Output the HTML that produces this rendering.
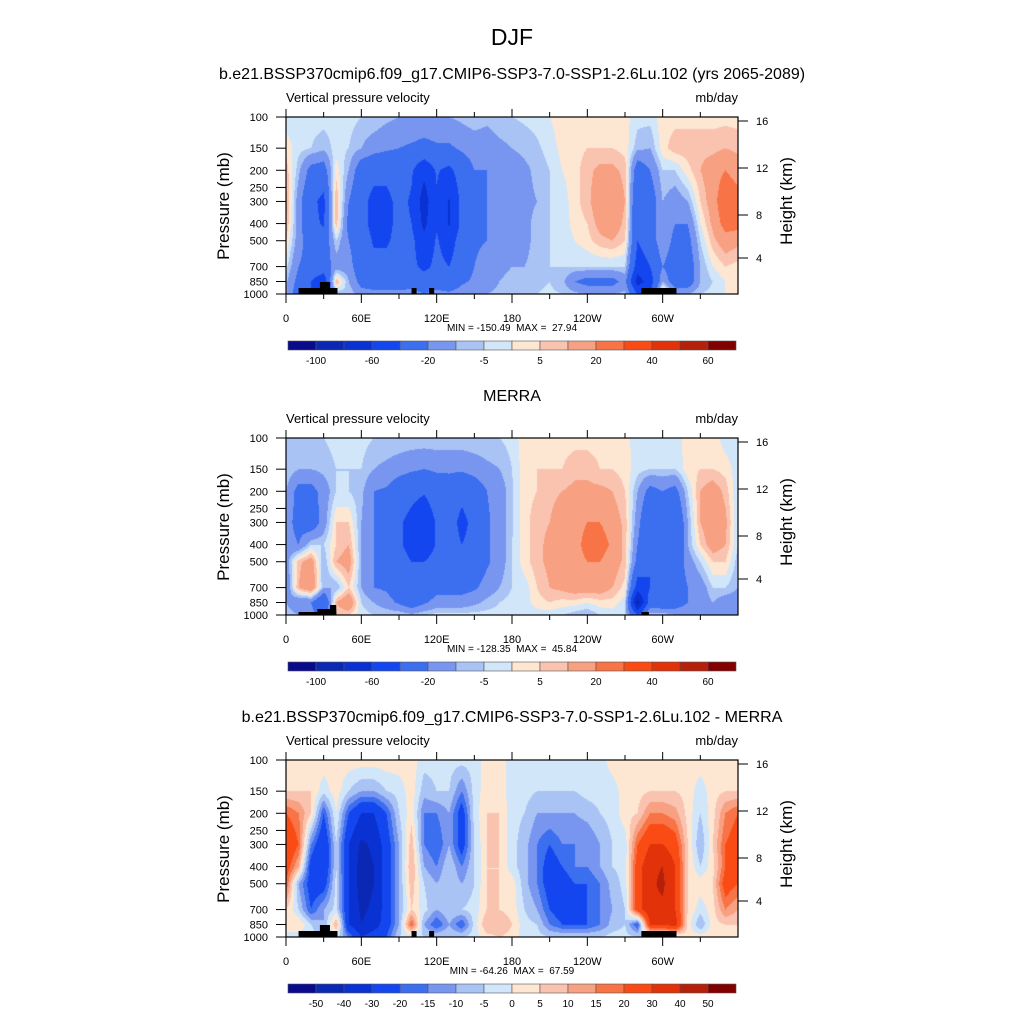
<!DOCTYPE html>
<html><head><meta charset="utf-8">
<style>
html,body{margin:0;padding:0;background:#fff;}
#root{position:relative;width:1024px;height:1024px;overflow:hidden;font-family:"Liberation Sans",sans-serif;}
canvas{position:absolute;}
svg{position:absolute;left:0;top:0;}
text{white-space:pre;}
</style></head><body>
<div id="root">
<canvas id="c0" width="452" height="177" style="left:286px;top:117px"></canvas>
<canvas id="c1" width="452" height="177" style="left:286px;top:438px"></canvas>
<canvas id="c2" width="452" height="177" style="left:286px;top:760px"></canvas>
<svg id="ov" width="1024" height="1024"></svg>
</div>
<script>
const colors=["#0a0a8c","#0a28b4","#0a32d2","#1446f0","#3c6ef0","#7896f0","#aac3f5","#d2e6fa","#fde6d2","#fac3af","#f8a082","#f87346","#fa4b14","#e1320a","#b4200a","#820000"];
const levelsAbs=[-100,-80,-60,-40,-20,-10,-5,0,5,10,20,30,40,50,60];
const levelsDiff=[-50,-40,-30,-20,-15,-10,-5,0,5,10,15,20,30,40,50];
const levelLabelsAbs=["-100","","-60","","-20","","-5","","5","","20","","40","","60"];
const levelLabelsDiff=["-50","-40","-30","-20","-15","-10","-5","0","5","10","15","20","30","40","50"];
const pressures=[100,150,200,300,400,500,700,850,1000];
const pTicks=[100,150,200,250,300,400,500,700,850,1000];
const hTicks=[16,12,8,4];
const hTickY=[4,51,98,141];
const lonTicks=[0,60,120,180,240,300];
const lonLabels=["0","60E","120E","180","120W","60W"];
const lons=[0,10,20,30,40,50,60,70,80,90,100,110,120,130,140,150,160,170,180,190,200,210,220,230,240,250,260,270,280,290,300,310,320,330,340,350,360];
const modelField=[
[-3,3,8,12,10,5,-3,-8,-8],[-3,-3,-8,-15,-15,-15,-20,-25,-30],[-3,-5,-25,-35,-35,-28,-25,-40,-40],[-3,-8,-28,-45,-42,-32,-28,-55,-45],
[-3,-3,3,10,8,-5,-15,10,-10],[-3,-5,-10,-20,-25,-20,-15,-10,-5],[-5,-10,-30,-35,-35,-30,-30,-25,-15],[-5,-15,-35,-45,-45,-42,-35,-30,-15],
[-8,-18,-35,-45,-45,-42,-35,-30,-15],[-10,-20,-30,-35,-35,-35,-35,-30,-15],[-10,-22,-38,-42,-40,-35,-35,-28,-15],[-10,-25,-55,-70,-65,-55,-45,-30,-20],
[-10,-22,-38,-42,-42,-38,-35,-30,-15],[-10,-22,-45,-62,-62,-50,-40,-30,-18],[-8,-18,-30,-35,-35,-30,-28,-22,-15],[-6,-15,-20,-22,-22,-22,-20,-18,-12],
[-8,-15,-20,-20,-20,-20,-15,-15,-10],[-6,-12,-15,-15,-15,-15,-12,-10,-8],[-5,-10,-15,-15,-15,-15,-10,-8,-6],[-4,-8,-12,-12,-12,-12,-10,-8,-6],
[-3,-6,-8,-10,-8,-8,-8,-6,-5],[0,-3,-5,-5,-5,-5,-5,-5,-4],[3,2,0,-3,-3,-3,-5,-8,-5],[3,3,3,3,2,0,-5,-20,-8],
[3,5,8,8,5,3,-5,-25,-10],[3,5,12,16,13,8,-5,-25,-10],[3,5,12,18,16,10,-5,-25,-10],[2,3,8,10,8,5,-5,-15,-8],
[-3,-8,-30,-40,-40,-40,-50,-70,-40],[-3,-10,-20,-30,-30,-30,-40,-50,-40],[3,3,-5,-10,-10,-10,-20,-10,10],[3,8,-5,-15,-20,-25,-30,-30,-10],
[3,8,3,-10,-20,-25,-30,-30,-10],[3,8,10,5,0,-5,-10,-10,-5],[3,8,15,15,12,8,0,-5,-3],[3,10,20,30,25,15,5,0,0],[3,8,15,25,25,12,3,0,3]];
const merraField=[
[-5,-5,-10,-15,-15,-15,-20,-10,-5],[-5,-10,-25,-25,-20,8,10,-20,-10],[-5,-10,-25,-30,-5,15,20,-20,-15],[-5,-8,-15,-15,-5,-10,-10,-40,-30],
[-3,-5,-5,5,5,10,-10,10,5],[-3,-5,-5,5,10,15,5,20,5],[-3,-5,-8,-10,-10,-10,-10,-5,-3],[-5,-10,-20,-20,-20,-20,-20,-10,-5],
[-5,-12,-22,-30,-30,-28,-22,-15,-5],[-5,-15,-30,-38,-38,-35,-30,-22,-5],[-5,-18,-35,-45,-45,-40,-35,-30,-8],[-5,-20,-38,-55,-55,-40,-32,-22,-5],
[-5,-18,-30,-38,-38,-32,-25,-15,-3],[-5,-18,-28,-32,-32,-32,-25,-15,-3],[-5,-18,-35,-45,-40,-32,-25,-15,-3],[-5,-15,-30,-35,-35,-32,-22,-12,-3],
[-5,-12,-20,-22,-22,-22,-15,-8,-3],[-5,-10,-15,-15,-15,-15,-10,-5,-3],[-3,-5,-6,-6,-5,-5,-5,-3,-3],[3,3,3,3,3,3,-3,-3,-3],
[3,5,5,8,8,8,5,3,-3],[3,5,8,10,12,12,10,5,-3],[3,5,10,15,15,15,12,3,-5],[3,8,12,18,18,18,15,3,-8],
[3,8,12,20,22,20,15,0,-10],[3,5,12,20,25,20,15,3,-5],[3,5,10,15,18,15,10,3,-3],[2,3,5,8,8,8,3,-3,-5],
[-3,-3,-10,-15,-20,-25,-50,-90,-40],[-3,-5,-25,-40,-40,-40,-40,-30,-5],[-3,-5,-20,-30,-30,-30,-40,-35,-5],[-3,-5,-25,-40,-40,-30,-30,-30,-10],
[3,3,-5,-10,-10,-15,-20,-20,-10],[3,5,10,10,5,-5,-15,-15,-10],[3,5,15,18,15,5,-5,-10,-10],[-3,3,8,12,10,5,-5,-15,-10],[-3,-3,-5,-5,-5,-8,-10,-15,-10]];
const diffField=[
[3,5,20,30,25,20,5,5,-3],[3,5,15,20,10,-10,-5,5,-3],[3,5,5,-15,-25,-25,-20,-5,-3],[3,-3,-20,-30,-30,-25,-10,-10,-5],
[3,3,0,-5,-5,-3,-3,10,-3],[3,-5,-20,-30,-30,-30,-30,-30,-15],[3,-10,-30,-42,-45,-45,-42,-40,-30],[3,-10,-30,-38,-40,-40,-38,-35,-25],
[3,-5,-20,-25,-25,-25,-25,-25,-20],[3,-3,-5,-10,-10,-10,-10,-10,-5],[3,3,3,8,10,8,5,20,-3],[-3,-8,-15,-15,-10,-5,-3,-10,-5],
[-3,-5,-15,-20,-15,-10,-10,-20,-5],[-3,-5,-10,-10,-5,-5,-5,-10,-5],[-3,-15,-25,-25,-15,-10,-5,-20,-5],[-3,-3,-3,-5,-5,-5,-3,-3,-3],
[3,3,5,5,5,5,5,10,3],[3,3,5,5,5,5,5,10,5],[-3,-3,-3,-3,-3,3,3,5,3],[-3,-3,-5,-8,-8,-8,-5,-3,-3],
[-3,-5,-10,-15,-15,-15,-10,-5,-3],[-3,-5,-10,-20,-25,-25,-20,-15,-5],[-3,-5,-10,-15,-20,-25,-25,-20,-5],[-3,-5,-10,-15,-15,-20,-25,-20,-5],
[-3,-3,-8,-15,-15,-20,-20,-20,-5],[-3,-3,-5,-10,-10,-15,-15,-15,-5],[3,-3,-3,-5,-5,-8,-10,-8,-3],[3,3,3,-3,-3,-3,-5,-5,-3],
[3,3,5,20,25,25,25,-20,-5],[3,5,15,30,38,38,38,30,-5],[3,5,15,30,40,42,38,30,-5],[3,5,12,25,30,30,30,35,-3],
[3,3,3,5,5,5,5,3,3],[3,-3,-5,-10,-5,3,-3,-10,3],[3,3,3,5,3,5,3,3,3],[3,5,15,20,20,25,15,5,3],[3,5,20,25,25,20,10,5,3]];
const panelTitles=["b.e21.BSSP370cmip6.f09_g17.CMIP6-SSP3-7.0-SSP1-2.6Lu.102 (yrs 2065-2089)","MERRA","b.e21.BSSP370cmip6.f09_g17.CMIP6-SSP3-7.0-SSP1-2.6Lu.102 - MERRA"];
const minmax=["MIN = -150.49  MAX =  27.94","MIN = -128.35  MAX =  45.84","MIN = -64.26  MAX =  67.59"];
const terrainModel=[[10,41,6],[27,35,12],[100,104,6],[114,118,6],[283,311,6]];
const terrainMerra=[[10,40,3],[25,40,6],[35,40,10],[283,289,3]];

const W=452,H=177,L=286;
const tops=[117,438,760];
const xOf=lon=>lon/360*W;
const yOf=p=>Math.log(p/100)/Math.log(10)*H;
const NS="http://www.w3.org/2000/svg";
const ov=document.getElementById('ov');
function mk(tag,attrs,name,txt){const e=document.createElementNS(NS,tag);for(const k in attrs)e.setAttribute(k,attrs[k]);
 
 
 if(txt!==undefined)e.textContent=txt;ov.appendChild(e);return e;}
function binOf(v,lv){let i=0;while(i<lv.length&&v>=lv[i])i++;return i;}
function hex(c){return [parseInt(c.slice(1,3),16),parseInt(c.slice(3,5),16),parseInt(c.slice(5,7),16)];}
const rgb=colors.map(hex);
const lp=pressures.map(p=>Math.log(p));
function drawField(id,field,lv){
 const ctx=document.getElementById(id).getContext('2d');const img=ctx.createImageData(W,H);
 for(let y=0;y<H;y++){
  const p=Math.log(100)+ (y+0.5)/H*Math.log(10);
  let j=0;while(j<lp.length-2&&p>lp[j+1])j++;
  const ty=Math.min(1,Math.max(0,(p-lp[j])/(lp[j+1]-lp[j])));
  for(let x=0;x<W;x++){
   const lon=(x+0.5)/W*360;let i=0;while(i<lons.length-2&&lon>lons[i+1])i++;
   const tx=(lon-lons[i])/(lons[i+1]-lons[i]);
   const v=(field[i][j]*(1-tx)+field[i+1][j]*tx)*(1-ty)+(field[i][j+1]*(1-tx)+field[i+1][j+1]*tx)*ty;
   const c=rgb[binOf(v,lv)];const k=(y*W+x)*4;img.data[k]=c[0];img.data[k+1]=c[1];img.data[k+2]=c[2];img.data[k+3]=255;}
 }
 ctx.putImageData(img,0,0);
}
drawField('c0',modelField,levelsAbs);drawField('c1',merraField,levelsAbs);drawField('c2',diffField,levelsDiff);

mk('text',{x:512,y:45,'font-size':23,'text-anchor':'middle'},'main-title','DJF');
const titleY=[79,401,722];
const terr=[terrainModel,terrainMerra,terrainModel];
for(let k=0;k<3;k++){
 const T=tops[k];
 mk('text',{x:512,y:titleY[k],'font-size':16,'text-anchor':'middle'},'panel-title',panelTitles[k]);
 mk('text',{x:286,y:T-15,'font-size':13},'left-subtitle','Vertical pressure velocity');
 mk('text',{x:738,y:T-15,'font-size':13,'text-anchor':'end'},'units-label','mb/day');
 terr[k].forEach(t=>mk('rect',{x:L+xOf(t[0]),y:T+H-t[2],width:xOf(t[1])-xOf(t[0]),height:t[2],fill:'#000'},'terrain-mask'));
 mk('rect',{x:L,y:T,width:W,height:H,fill:'none',stroke:'#000','stroke-width':1.2},'plot-frame');
 for(let lon=0;lon<=330;lon+=30){const x=L+xOf(lon);const maj=lon%60==0;
  mk('line',{x1:x,y1:T,x2:x,y2:T-(maj?8:5),stroke:'#000'},'top-tick');
  mk('line',{x1:x,y1:T+H,x2:x,y2:T+H+(maj?9:5),stroke:'#000'},'bottom-tick');}
 lonTicks.forEach((lon,i)=>mk('text',{x:L+xOf(lon),y:T+H+28,'font-size':11,'text-anchor':'middle'},'x-tick-label',lonLabels[i]));
 mk('text',{x:512,y:T+H+37,'font-size':10,'text-anchor':'middle'},'min-max-label',minmax[k]);
 pTicks.forEach(p=>{const y=T+yOf(p);mk('line',{x1:L,y1:y,x2:L-10,y2:y,stroke:'#000'},'y-tick');
  mk('text',{x:268,y:y+4,'font-size':11,'text-anchor':'end'},'y-tick-label',String(p));});
 hTicks.forEach((h,i)=>{const y=T+hTickY[i];mk('line',{x1:L+W,y1:y,x2:L+W+10,y2:y,stroke:'#000'},'height-tick');
  mk('text',{x:756,y:y+4,'font-size':11},'height-tick-label',String(h));});
 mk('text',{x:0,y:0,'font-size':17,'text-anchor':'middle',transform:`translate(229,${T+89}) rotate(-90)`},'y-axis-title','Pressure (mb)');
 mk('text',{x:0,y:0,'font-size':17,'text-anchor':'middle',transform:`translate(792,${T+84}) rotate(-90)`},'right-axis-title','Height (km)');
 const cy=T+224;
 colors.forEach((c,i)=>mk('rect',{x:288+i*28,y:cy,width:28,height:9,fill:c,stroke:'#555','stroke-width':0.6},'colorbar-box'));
 const lab=k==2?levelLabelsDiff:levelLabelsAbs;
 lab.forEach((s,i)=>{if(s)mk('text',{x:288+(i+1)*28,y:cy+23,'font-size':10,'text-anchor':'middle'},'colorbar-label',s);});
}
</script>
</body></html>
